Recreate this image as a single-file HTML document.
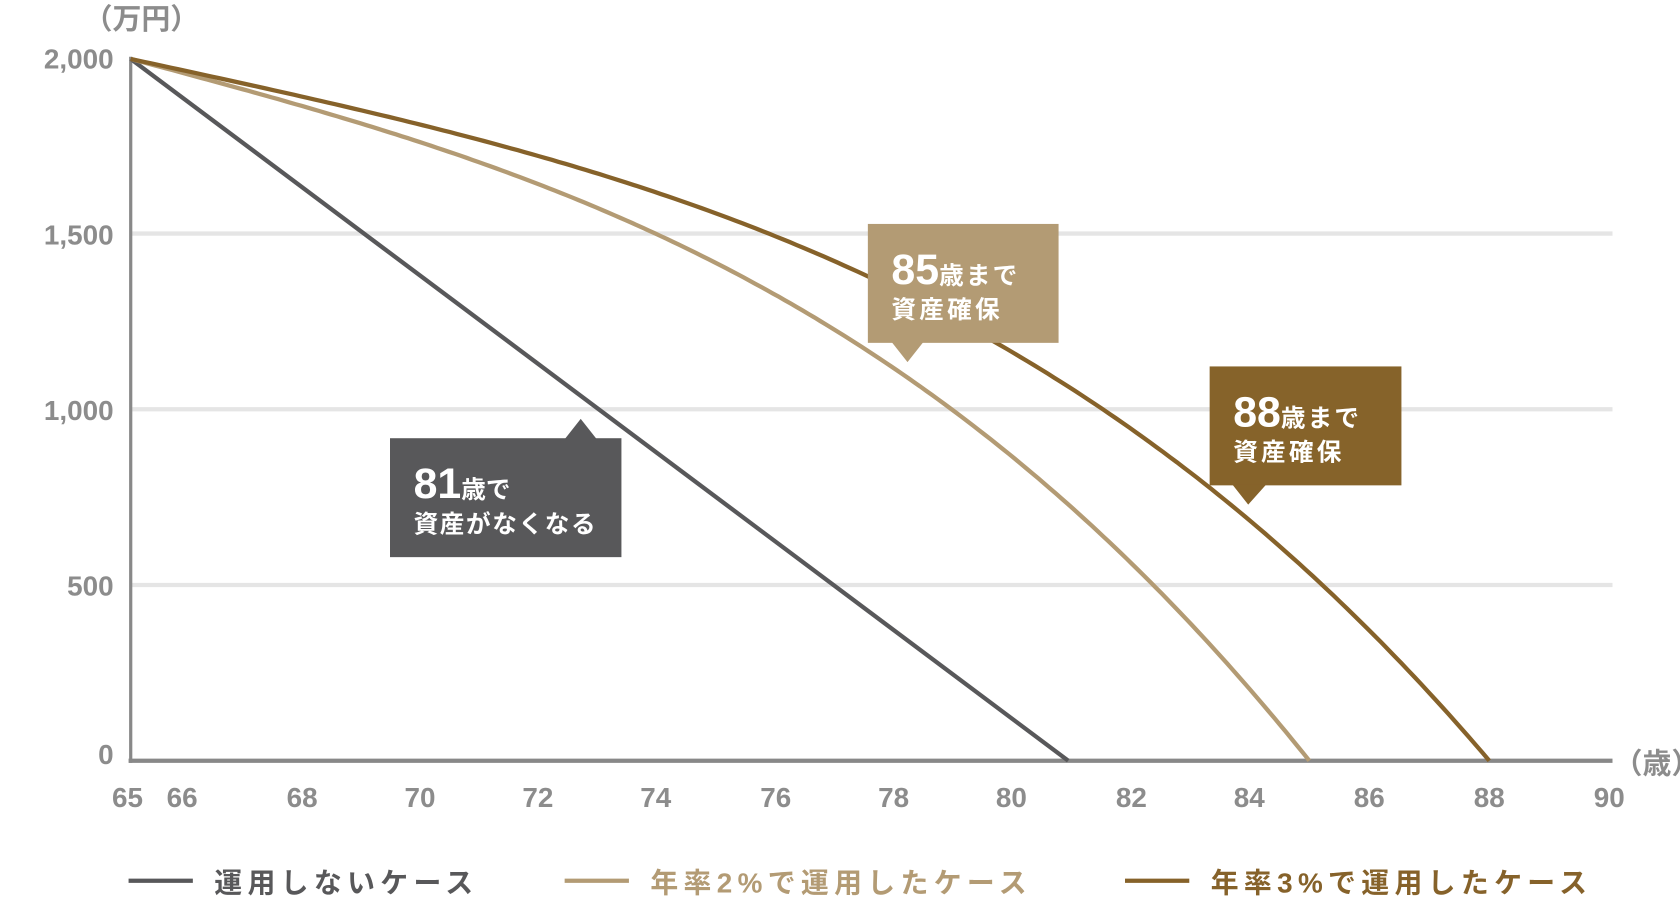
<!DOCTYPE html>
<html><head><meta charset="utf-8">
<style>
html,body{margin:0;padding:0;background:#fff;}
svg{display:block;}
text{font-family:"Liberation Sans","Noto Sans CJK JP",sans-serif;font-weight:bold;}
</style></head>
<body>
<svg width="1680" height="900" viewBox="0 0 1568 840" preserveAspectRatio="none" xmlns="http://www.w3.org/2000/svg">
<g stroke="#e5e5e5" stroke-width="4">
<line x1="122" y1="218" x2="1505" y2="218"/>
<line x1="122" y1="382" x2="1505" y2="382"/>
<line x1="122" y1="546" x2="1505" y2="546"/>
</g>
<line x1="122" y1="53" x2="122" y2="712" stroke="#888" stroke-width="3"/>
<line x1="120" y1="710" x2="1505" y2="710" stroke="#888" stroke-width="4"/>
<g fill="#8c8c8c" font-size="26" text-anchor="end">
<text x="106" y="64">2,000</text>
<text x="106" y="228">1,500</text>
<text x="106" y="392">1,000</text>
<text x="106" y="556">500</text>
<text x="106" y="713">0</text>
</g>
<text x="78" y="27" fill="#8c8c8c" font-size="27" font-weight="normal">（万円）</text>
<text x="1506" y="722" fill="#8c8c8c" font-size="27" font-weight="normal">（歳）</text>
<g fill="#8c8c8c" font-size="26" text-anchor="middle">
<text x="119" y="753">65</text><text x="170" y="753">66</text><text x="282" y="753">68</text>
<text x="392" y="753">70</text><text x="502" y="753">72</text><text x="612" y="753">74</text>
<text x="724" y="753">76</text><text x="834" y="753">78</text><text x="944" y="753">80</text>
<text x="1056" y="753">82</text><text x="1166" y="753">84</text><text x="1278" y="753">86</text>
<text x="1390" y="753">88</text><text x="1502" y="753">90</text>
</g>
<line x1="122" y1="55" x2="997" y2="710" stroke="#58585a" stroke-width="4"/>
<path id="tan" fill="none" stroke="#b39b74" stroke-width="4"/>
<path id="brn" fill="none" stroke="#86622a" stroke-width="4"/>
<g fill="#58585a"><rect x="364" y="409" width="216" height="111"/><polygon points="527,410 542,391 557,410"/></g>
<text x="386" y="465" fill="#fff" font-size="40">81<tspan font-size="23">歳で</tspan></text>
<text x="386" y="497" fill="#fff" font-size="23" letter-spacing="1.5">資産がなくなる</text>
<g fill="#b39b74"><rect x="810" y="209" width="178" height="111"/><polygon points="832,319 847,338 862,319"/></g>
<text x="832" y="265" fill="#fff" font-size="40">85<tspan font-size="23" letter-spacing="2">歳まで</tspan></text>
<text x="832" y="297" fill="#fff" font-size="23" letter-spacing="3">資産確保</text>
<g fill="#86632a"><rect x="1129" y="342" width="179" height="111"/><polygon points="1150,452 1165,471 1182,452"/></g>
<text x="1151" y="398" fill="#fff" font-size="40">88<tspan font-size="23" letter-spacing="2">歳まで</tspan></text>
<text x="1151" y="430" fill="#fff" font-size="23" letter-spacing="3">資産確保</text>
<line x1="120" y1="822" x2="180" y2="822" stroke="#58585a" stroke-width="4"/>
<text x="200" y="833" fill="#58585a" font-size="26" letter-spacing="5">運用しないケース</text>
<line x1="527" y1="822" x2="587" y2="822" stroke="#b39b74" stroke-width="4"/>
<text x="607" y="833" fill="#b39b74" font-size="26" letter-spacing="5">年率2%で運用したケース</text>
<line x1="1050" y1="822" x2="1110" y2="822" stroke="#86622a" stroke-width="4"/>
<text x="1130" y="833" fill="#86622a" font-size="26" letter-spacing="5">年率3%で運用したケース</text>
</svg>
<script>
function mk(x1,a,n){var d="";for(var i=0;i<=200;i++){var t=i/200;var f=a*t+(1-a)*Math.pow(t,n);var x=122+(x1-122)*t,y=55+655*f;d+=(i?"L":"M")+x.toFixed(1)+","+y.toFixed(1);}return d;}
document.getElementById("tan").setAttribute("d",mk(1222,0.45,3));
document.getElementById("brn").setAttribute("d",mk(1390,0.42,3.2));
</script>
</body></html>
